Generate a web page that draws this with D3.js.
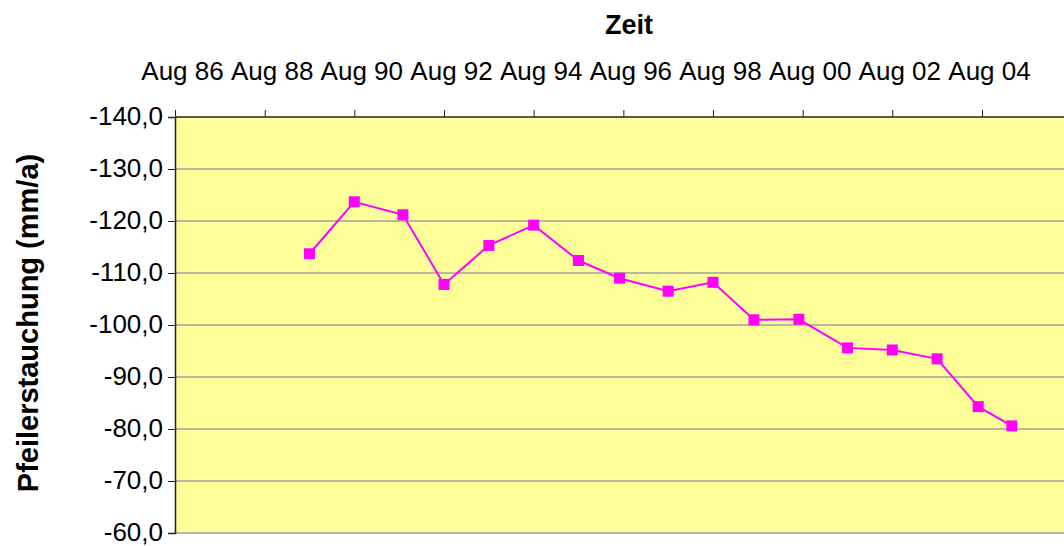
<!DOCTYPE html>
<html>
<head>
<meta charset="utf-8">
<script src="https://cdn.jsdelivr.net/npm/d3@7"></script>
<style>
  body { margin: 0; background: #fff; }
  text { font-family: "Liberation Sans", Arial, sans-serif; }
</style>
</head>
<body>
<div id="chart_container"></div>
<script>
// measurement dates (year-month) and compression values in mm/a
const dates = ["1989-08", "1990-08", "1991-09", "1992-08", "1993-08", "1994-08",
               "1995-08", "1996-07", "1997-08", "1998-08", "1999-07", "2000-07",
               "2001-08", "2002-08", "2003-08", "2004-07", "2005-04"];
const values = [-113.7, -123.7, -121.2, -107.8, -115.3, -119.2,
                -112.4, -109.0, -106.5, -108.2, -101.0, -101.1,
                -95.6, -95.2, -93.5, -84.3, -80.6];

const xTickDates = ["1986-08", "1988-08", "1990-08", "1992-08", "1994-08",
                    "1996-08", "1998-08", "2000-08", "2002-08", "2004-08"];
const xTickLabels = ["Aug 86", "Aug 88", "Aug 90", "Aug 92", "Aug 94",
                     "Aug 96", "Aug 98", "Aug 00", "Aug 02", "Aug 04"];
const yTicks = [-140, -130, -120, -110, -100, -90, -80, -70, -60];

function DrawChart() {
    const width = 1064, height = 546;
    const left = 175, top = 117, bottom = 533;
    const parse = d3.timeParse("%Y-%m");

    const svg = d3.select("#chart_container")
        .append("svg")
        .attr("width", width)
        .attr("height", height);

    // x: Aug 86 at the left edge, Aug 04 at 982
    const x = d3.scaleTime()
        .domain([parse("1986-08"), parse("2004-08")])
        .range([left, 982]);

    // y is reversed: -140 at the top
    const y = d3.scaleLinear()
        .domain([-140, -60])
        .range([top, bottom]);

    svg.append("rect")
        .attr("x", left).attr("y", top)
        .attr("width", width - left).attr("height", bottom - top)
        .attr("fill", "#ffff99");

    // horizontal gridlines
    svg.append("g")
        .selectAll("line")
        .data(yTicks.filter(d => d !== -140))
        .enter()
        .append("line")
            .attr("x1", left).attr("x2", width)
            .attr("y1", d => y(d)).attr("y2", d => y(d))
            .attr("stroke", "#a0a0a0")
            .attr("stroke-width", 1.5);

    // left axis, German decimal comma and plain hyphen minus
    const yAxis = d3.axisLeft(y)
        .tickValues(yTicks)
        .tickSize(7)
        .tickPadding(5)
        .tickFormat(d => d.toFixed(1).replace(".", ","));
    const gy = svg.append("g")
        .attr("transform", `translate(${left},0)`)
        .call(yAxis);
    gy.select(".domain").attr("stroke", "#222").attr("stroke-width", 1.5);
    gy.selectAll(".tick line").attr("stroke", "#222");
    gy.selectAll(".tick text")
        .attr("font-size", 26)
        .attr("fill", "#000")
        .attr("dy", "0.3em")
        .attr("font-family", "Liberation Sans, Arial, sans-serif");

    // top axis
    const xAxis = d3.axisTop(x)
        .tickValues(xTickDates.map(parse))
        .tickSize(7)
        .tickSizeOuter(0)
        .tickPadding(30)
        .tickFormat((d, i) => xTickLabels[i]);
    const gx = svg.append("g")
        .attr("transform", `translate(0,${top})`)
        .call(xAxis);
    gx.select(".domain").attr("d", `M${left},0H${width}`)
        .attr("stroke", "#222").attr("stroke-width", 1.5);
    gx.selectAll(".tick line").attr("stroke", "#222");
    gx.selectAll(".tick text")
        .attr("font-size", 26)
        .attr("fill", "#000")
        .attr("dx", 7)
        .attr("font-family", "Liberation Sans, Arial, sans-serif");

    // series
    const pts = dates.map((d, i) => ({ date: parse(d), value: values[i] }));
    const line = d3.line()
        .x(d => x(d.date))
        .y(d => y(d.value));

    svg.append("path")
        .datum(pts)
        .attr("d", line)
        .attr("fill", "none")
        .attr("stroke", "#ff00ff")
        .attr("stroke-width", 2);

    svg.append("g")
        .selectAll("rect")
        .data(pts)
        .enter()
        .append("rect")
            .attr("x", d => x(d.date) - 5.5)
            .attr("y", d => y(d.value) - 5.5)
            .attr("width", 11)
            .attr("height", 11)
            .attr("fill", "#ff00ff");

    // titles
    svg.append("text")
        .attr("x", 629).attr("y", 34)
        .attr("text-anchor", "middle")
        .attr("font-size", 27)
        .attr("font-weight", "bold")
        .text("Zeit");

    svg.append("text")
        .attr("transform", "translate(38,323) rotate(-90)")
        .attr("text-anchor", "middle")
        .attr("font-size", 29)
        .attr("font-weight", "bold")
        .text("Pfeilerstauchung (mm/a)");
}

DrawChart();
</script>
</body>
</html>
